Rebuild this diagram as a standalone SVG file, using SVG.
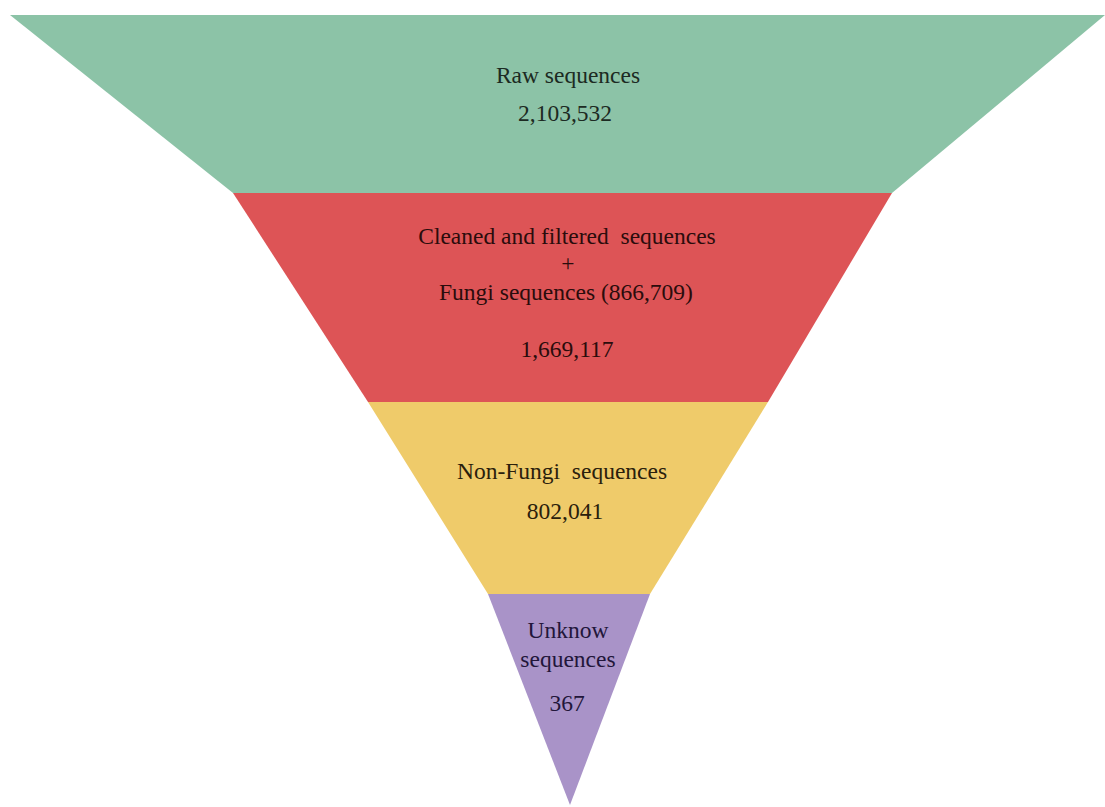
<svg xmlns="http://www.w3.org/2000/svg" width="1105" height="807" viewBox="0 0 1105 807">
<style>
text{font-family:"Liberation Serif","Times New Roman",serif;font-size:23.5px;text-anchor:middle}
.g text{fill:#1c2a22}.r text{fill:#2a0c0c}.y text{fill:#2a200c}.p text{fill:#22163a}
</style>
<rect width="1105" height="807" fill="#ffffff"/>
<g id="raw" class="g">
<polygon points="10,15 1105,15 892,193 233,193" fill="#8CC3A7"/>
<text x="568" y="83">Raw sequences</text>
<text x="565" y="121">2,103,532</text>
</g>
<g id="cleaned" class="r">
<polygon points="233,193 892,193 768,402 368,402" fill="#DD5456"/>
<text x="567" y="244" xml:space="preserve">Cleaned and filtered  sequences</text>
<text x="568" y="271">+</text>
<text x="566" y="300">Fungi sequences (866,709)</text>
<text x="567" y="357">1,669,117</text>
</g>
<g id="nonfungi" class="y">
<polygon points="368,402 768,402 650,594 488,594" fill="#EFCB6A"/>
<text x="562" y="479" xml:space="preserve">Non-Fungi  sequences</text>
<text x="565" y="519">802,041</text>
</g>
<g id="unknow" class="p">
<polygon points="488,594 650,594 570,805" fill="#A993C8"/>
<text x="568" y="638">Unknow</text>
<text x="568" y="667">sequences</text>
<text x="567" y="711">367</text>
</g>
<g id="connectors"/>
</svg>
